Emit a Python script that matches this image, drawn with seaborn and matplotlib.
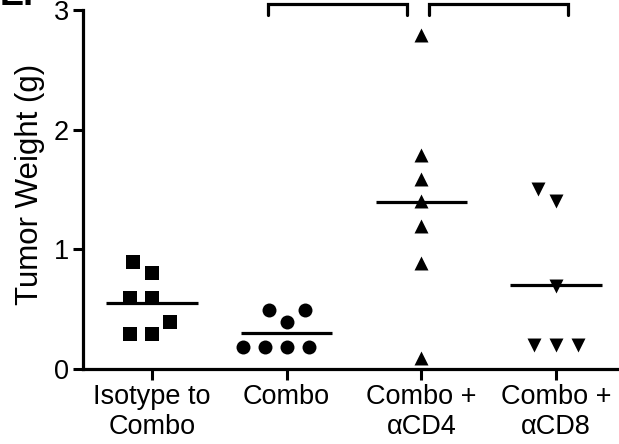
import numpy as np
import matplotlib
matplotlib.use('Agg')
import matplotlib.pyplot as plt
from matplotlib.transforms import Affine2D
import seaborn as sns

# values (tumor weight, g)
groups = ['Isotype to\nCombo', 'Combo', 'Combo +\nαCD4', 'Combo +\nαCD8']
isotype = [0.89, 0.80, 0.59, 0.59, 0.39, 0.29, 0.29]
combo = [0.49, 0.49, 0.39, 0.18, 0.18, 0.18, 0.18]
combo_cd4 = [2.79, 1.79, 1.59, 1.40, 1.19, 0.88, 0.09]
combo_cd8 = [1.50, 1.40, 0.69, 0.20, 0.20, 0.20]
markers = ['s', 'o', '^', 'v']
yticks = [0, 1, 2, 3]

sns.set_style('ticks')
plt.rcParams['font.family'] = ['Liberation Sans', 'DejaVu Sans']
plt.rcParams['text.color'] = 'black'
plt.rcParams['axes.labelcolor'] = 'black'
plt.rcParams['xtick.color'] = 'black'
plt.rcParams['ytick.color'] = 'black'

fig = plt.figure(figsize=(6.19, 4.44), dpi=100)
ax = fig.add_axes([0.134, 0.170, 0.866, 0.830])

series = [isotype, combo, combo_cd4, combo_cd8]
for name, vals, m in zip(groups, series, markers):
    n_before = len(ax.collections)
    sns.swarmplot(x=[name] * len(vals), y=vals, order=groups, marker=m,
                  color='black', size=15, ax=ax, zorder=3, linewidth=0)
    # swarm spacing uses size=15, but draw the glyphs smaller so points sit apart
    for coll in ax.collections[n_before:]:
        coll.set_paths([p.transformed(Affine2D().scale(0.67)) for p in coll.get_paths()])
    i = groups.index(name)
    ax.hlines(np.mean(vals), i - 0.34, i + 0.34, color='black', lw=2.3, zorder=4)

ax.set_xlim(-0.512, 3.467)
ax.set_ylim(0, 3.084)
ax.set_yticks(yticks)
ax.set_yticklabels([str(t) for t in yticks])
ax.set_ylabel('Tumor Weight (g)', fontsize=22.5, labelpad=6)
ax.set_xlabel('')
ax.tick_params(axis='both', labelsize=19.5, width=2.2, length=7, color='black',
               labelcolor='black', pad=3)
ax.tick_params(axis='x', length=8)

sns.despine(ax=ax)
ax.spines['left'].set_bounds(0, 3)
for s in ['left', 'bottom']:
    ax.spines[s].set_linewidth(2.3)
    ax.spines[s].set_color('black')

# significance brackets
for x1, x2 in [(0.861, 1.893), (2.056, 3.088)]:
    ax.plot([x1, x1, x2, x2], [2.96, 3.05, 3.05, 2.96], color='black', lw=2.3,
            clip_on=False, solid_joinstyle='miter')

fig.text(0.0, 0.989, 'E.', fontsize=26, fontweight='bold', va='baseline')

fig.savefig('out.png', dpi=100)
